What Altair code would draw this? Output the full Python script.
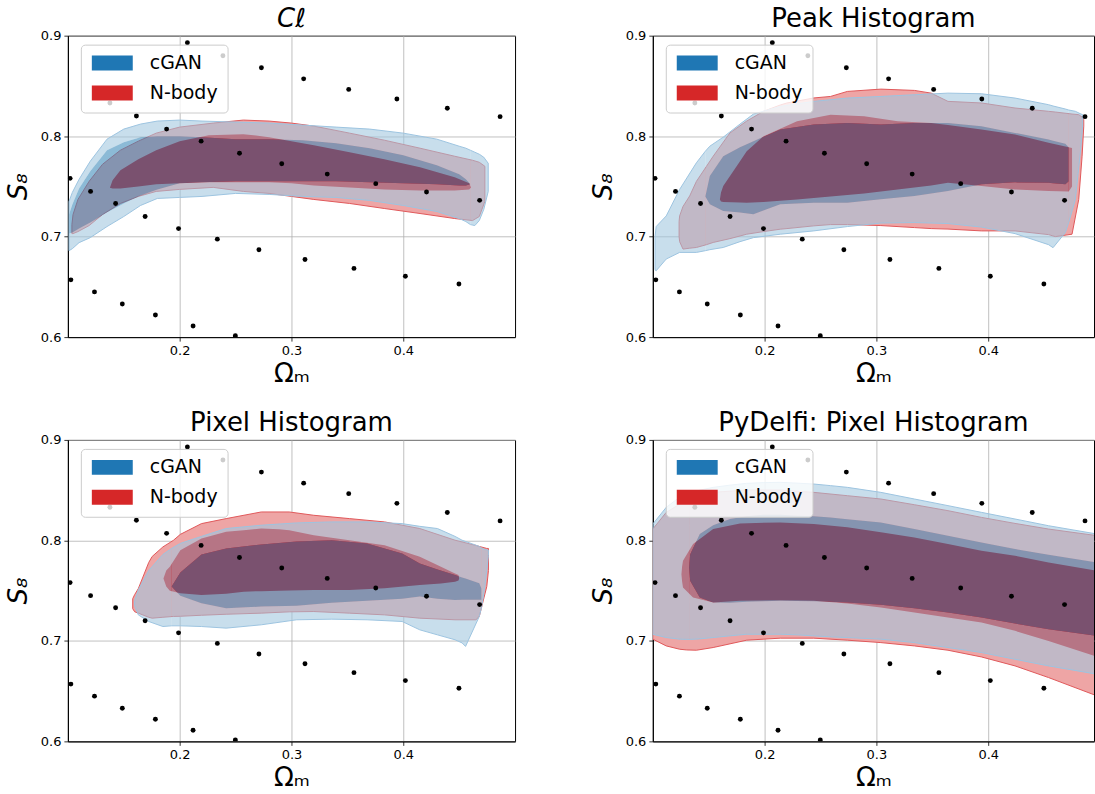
import altair as alt
import pandas as pd

# ---------------- scatter points (same in every panel) ----------------
PT_X = [0.102, 0.1027, 0.1203, 0.1238, 0.1376, 0.1427, 0.1487, 0.1613, 0.1691, 0.1783,
        0.1883, 0.199, 0.2069, 0.212, 0.2192, 0.2337, 0.2387, 0.2498, 0.2535, 0.2709,
        0.2731, 0.2913, 0.3109, 0.3121, 0.332, 0.3512, 0.3559, 0.3754, 0.3943, 0.4019,
        0.4208, 0.4394, 0.4498, 0.4683, 0.4866]
PT_Y = [0.758, 0.657, 0.745, 0.645, 0.833, 0.733, 0.633, 0.820, 0.720, 0.622,
        0.807, 0.708, 0.893, 0.611, 0.795, 0.6975, 0.880, 0.6014, 0.783, 0.687,
        0.868, 0.7725, 0.857, 0.6773, 0.7622, 0.8465, 0.6684, 0.7527, 0.8369, 0.6605,
        0.7444, 0.8277, 0.6529, 0.7361, 0.8194]

TITLES = ["Cℓ", "Peak Histogram", "Pixel Histogram", "PyDelfi: Pixel Histogram"]
SIMS = ["cGAN", "N-body"]
N = None

# ---------------- panel 1 : C_ell ----------------
P1_CG_X = [0.101, 0.104, 0.11, 0.12, 0.135, 0.15, 0.165, 0.18, 0.2, 0.22, 0.25, 0.28,
           0.31, 0.34, 0.37, 0.40, 0.43, 0.45, 0.456, 0.46, 0.464, 0.468, 0.472, 0.476]
P1_CG95_HI = [0.735, 0.744, 0.757, 0.775, 0.797, 0.807, 0.812, 0.815, 0.816, 0.815, 0.814, 0.813,
              0.811, 0.809, 0.807, 0.803, 0.797, 0.790, 0.788, 0.786, 0.784, 0.782, 0.779, 0.773]
P1_CG95_LO = [0.686, 0.688, 0.694, 0.699, 0.710, 0.720, 0.731, 0.738, 0.739, 0.740, 0.743, 0.742,
              0.740, 0.739, 0.736, 0.731, 0.725, 0.718, 0.715, 0.712, 0.711, 0.716, 0.727, 0.745]
P1_CG68_HI = [0.722, 0.732, 0.748, 0.765, 0.786, 0.794, 0.799, 0.800, 0.800, 0.799, 0.797, 0.797,
              0.796, 0.793, 0.788, 0.781, 0.771, 0.762, 0.757, 0.752, N, N, N, N]
P1_CG68_LO = [0.703, 0.704, 0.708, 0.714, 0.724, 0.733, 0.741, 0.747, 0.753, 0.754, 0.755, 0.755,
              0.755, 0.755, 0.754, 0.753, 0.752, 0.751, 0.751, 0.752, N, N, N, N]
P1_NB95_X = [0.1036, 0.1046, 0.109, 0.119, 0.131, 0.147, 0.163, 0.179, 0.20, 0.23, 0.257, 0.28,
             0.30, 0.32, 0.352, 0.383, 0.415, 0.446, 0.462, 0.468, 0.473]
P1_NB95_HI = [0.712, 0.722, 0.737, 0.755, 0.772, 0.786, 0.795, 0.803, 0.809, 0.813, 0.816, 0.815,
              0.813, 0.810, 0.803, 0.796, 0.788, 0.780, 0.776, 0.774, 0.770]
P1_NB95_LO = [0.703, 0.703, 0.705, 0.711, 0.722, 0.733, 0.740, 0.745, 0.747, 0.749, 0.745, 0.743,
              0.740, 0.737, 0.733, 0.728, 0.723, 0.718, 0.716, 0.720, 0.735]
P1_NB68_X = [0.1376, 0.14, 0.147, 0.163, 0.179, 0.20, 0.226, 0.257, 0.28, 0.30, 0.32, 0.352,
             0.383, 0.415, 0.446, 0.459, 0.4605]
P1_NB68_HI = [0.7487, 0.756, 0.766, 0.777, 0.786, 0.795, 0.801, 0.802, 0.799, 0.795, 0.791, 0.784,
              0.777, 0.769, 0.759, 0.753, 0.749]
P1_NB68_LO = [0.7487, 0.748, 0.748, 0.750, 0.752, 0.753, 0.754, 0.754, 0.754, 0.753, 0.751, 0.749,
              0.747, 0.746, 0.746, 0.747, 0.749]

# ---------------- panel 2 : Peak Histogram ----------------
P2_CG_X = [0.102, 0.103, 0.112, 0.124, 0.139, 0.147, 0.151, 0.163, 0.178, 0.19, 0.214, 0.244,
           0.274, 0.304, 0.334, 0.364, 0.394, 0.424, 0.454, 0.458, 0.469, 0.472, 0.478, 0.483, 0.4845]
P2_CG95_HI = [0.700, 0.710, 0.7206, 0.747, 0.7735, 0.785, 0.790, 0.799, 0.812, 0.822, 0.8296, 0.8346,
              0.8379, 0.8395, 0.8412, 0.8428, 0.8422, 0.8379, 0.8313, 0.830, 0.827, 0.826, 0.8247, 0.822, 0.8214]
P2_CG95_LO = [0.667, 0.666, 0.6777, 0.6843, 0.6843, 0.686, 0.687, 0.6892, 0.695, 0.699, 0.7024, 0.7057,
              0.710, 0.7135, 0.714, 0.713, 0.7095, 0.703, 0.692, 0.689, 0.704, 0.714, 0.737, 0.79, 0.81]
P2_CG68_HI = [N, N, N, N, N, 0.74, 0.7603, 0.78, 0.789, 0.795, 0.8065, 0.8115,
              0.8131, 0.8115, 0.8131, 0.8131, 0.8098, 0.8032, 0.7966, 0.7955, 0.7925, 0.789, N, N, N]
P2_CG68_LO = [N, N, N, N, N, 0.74, 0.7322, 0.7256, 0.724, 0.7223, 0.7322, 0.7338,
              0.7338, 0.7371, 0.7405, 0.7454, 0.752, 0.754, 0.7535, 0.753, 0.752, 0.755, N, N, N]
P2_NB95_X = [0.1235, 0.124, 0.127, 0.133, 0.139, 0.148, 0.154, 0.169, 0.184, 0.199, 0.214, 0.22,
             0.244, 0.259, 0.274, 0.304, 0.334, 0.349, 0.364, 0.394, 0.424, 0.454, 0.46, 0.475,
             0.481, 0.484, 0.4855]
P2_NB95_HI = [0.715, 0.7206, 0.73, 0.7405, 0.755, 0.77, 0.78, 0.8032, 0.815, 0.8247, 0.831, 0.833,
              0.838, 0.8395, 0.8445, 0.8468, 0.8455, 0.8428, 0.8346, 0.833, 0.828, 0.8247, 0.824, 0.822,
              0.8214, 0.819, 0.8164]
P2_NB95_LO = [0.70, 0.695, 0.6876, 0.6885, 0.6892, 0.692, 0.6942, 0.698, 0.7024, 0.705, 0.7074, 0.708,
              0.7107, 0.712, 0.712, 0.711, 0.709, 0.708, 0.7075, 0.7057, 0.7057, 0.702, 0.70, 0.7024,
              0.737, 0.78, 0.81]
P2_NB68_X = [0.16, 0.161, 0.163, 0.178, 0.184, 0.199, 0.229, 0.259, 0.289, 0.319, 0.349, 0.364,
             0.394, 0.424, 0.454, 0.472, 0.475]
P2_NB68_HI = [0.737, 0.744, 0.7504, 0.775, 0.785, 0.80, 0.8148, 0.8214, 0.8197, 0.8148, 0.8131, 0.811,
              0.8065, 0.8016, 0.7933, 0.789, 0.7883]
P2_NB68_LO = [0.737, 0.735, 0.7345, 0.734, 0.7338, 0.7345, 0.737, 0.740, 0.743, 0.747, 0.751, 0.7537,
              0.7504, 0.747, 0.7454, 0.745, 0.75]

# ---------------- panel 3 : Pixel Histogram ----------------
P3_CG_X = [0.1597, 0.163, 0.1723, 0.185, 0.1928, 0.2006, 0.2195, 0.2416, 0.273, 0.3046, 0.336,
           0.3676, 0.399, 0.4148, 0.4306, 0.4463, 0.4526, 0.4557, 0.468, 0.470, 0.473, 0.4762]
P3_CG95_HI = [0.740, 0.7507, 0.770, 0.786, 0.792, 0.797, 0.804, 0.8118, 0.8151, 0.8174, 0.8184,
              0.8184, 0.8167, 0.814, 0.8118, 0.804, 0.8002, 0.799, 0.794, 0.7925, 0.791, 0.7903]
P3_CG95_LO = [0.735, 0.7259, 0.7193, 0.7143, 0.715, 0.715, 0.7143, 0.7127, 0.716, 0.721, 0.7216,
              0.721, 0.7193, 0.711, 0.706, 0.7011, 0.698, 0.6945, 0.7243, 0.733, 0.754, 0.785]
P3_CG68_HI = [N, N, N, N, 0.754, 0.768, 0.786, 0.792, 0.796, 0.799, 0.8002,
              0.797, 0.787, 0.7771, 0.771, 0.7655, 0.763, 0.762, 0.7573, 0.752, N, N]
P3_CG68_LO = [N, N, N, N, 0.754, 0.745, 0.7375, 0.7325, 0.7342, 0.735, 0.738,
              0.740, 0.742, 0.7441, 0.742, 0.7408, 0.741, 0.741, 0.741, 0.741, N, N]
P3_NB95_X = [0.158, 0.1597, 0.163, 0.1723, 0.1754, 0.185, 0.1943, 0.2006, 0.2195, 0.2416, 0.273,
             0.298, 0.32, 0.3518, 0.3833, 0.4148, 0.4463, 0.465, 0.468, 0.4747, 0.4762]
P3_NB95_HI = [0.742, 0.746, 0.752, 0.778, 0.784, 0.7935, 0.800, 0.806, 0.8167, 0.8217, 0.8283,
              0.8283, 0.825, 0.8217, 0.8184, 0.8118, 0.8002, 0.795, 0.794, 0.792, 0.792]
P3_NB95_LO = [0.732, 0.729, 0.7276, 0.7235, 0.7226, 0.7235, 0.7243, 0.7245, 0.7255, 0.7265, 0.7276,
              0.7289, 0.7292, 0.7276, 0.7259, 0.7226, 0.721, 0.721, 0.7243, 0.754, 0.77]
P3_NB68_X = [0.1855, 0.188, 0.1912, 0.2006, 0.2195, 0.2416, 0.2573, 0.273, 0.2888, 0.298, 0.32,
             0.3518, 0.3833, 0.4148, 0.4337, 0.4463, 0.4494, 0.45]
P3_NB68_HI = [0.7622, 0.770, 0.7738, 0.7903, 0.8019, 0.8085, 0.810, 0.8118, 0.811, 0.8101, 0.8052,
              0.8002, 0.7953, 0.7837, 0.7738, 0.767, 0.7655, 0.7622]
P3_NB68_LO = [0.7622, 0.754, 0.750, 0.7474, 0.7457, 0.747, 0.749, 0.7495, 0.75, 0.7502, 0.7507,
              0.7507, 0.7523, 0.7556, 0.757, 0.7589, 0.760, 0.7622]

# ---------------- panel 4 : PyDelfi ----------------
P4_CG_X = [0.1, 0.112, 0.124, 0.13, 0.1325, 0.1334, 0.142, 0.154, 0.169, 0.184, 0.199, 0.214,
           0.229, 0.244, 0.259, 0.274, 0.304, 0.334, 0.364, 0.394, 0.424, 0.454, 0.4975]
P4_CG95_HI = [0.8163, 0.8329, 0.843, 0.8462, 0.847, 0.8473, 0.850, 0.8528, 0.855, 0.8568, 0.8575, 0.8578,
              0.857, 0.8561, 0.8545, 0.8528, 0.8478, 0.8412, 0.8346, 0.8279, 0.8213, 0.8146, 0.8063]
P4_CG95_LO = [0.7066, 0.7033, 0.7017, 0.7015, 0.7015, 0.7015, 0.702, 0.7033, 0.705, 0.7066, 0.7066, 0.7066,
              0.706, 0.705, 0.704, 0.7033, 0.7017, 0.6983, 0.6934, 0.6884, 0.6817, 0.6751, 0.6668]
P4_CG68_HI = [N, N, N, N, 0.7731, 0.786, 0.8063, 0.815, 0.8213, 0.824, 0.8256, 0.8255,
              0.8246, 0.824, 0.8229, 0.821, 0.8179, 0.8113, 0.8047, 0.798, 0.7914, 0.7857, 0.7781]
P4_CG68_LO = [N, N, N, N, 0.7731, 0.7598, 0.7432, 0.7382, 0.738, 0.739, 0.7395, 0.74,
              0.7398, 0.7395, 0.739, 0.7382, 0.7359, 0.7326, 0.7282, 0.7233, 0.7173, 0.7116, 0.705]
P4_NB95_X = [0.1, 0.112, 0.124, 0.13, 0.139, 0.154, 0.184, 0.214, 0.244, 0.274, 0.304, 0.334,
             0.364, 0.394, 0.424, 0.454, 0.4975]
P4_NB95_HI = [0.8113, 0.8279, 0.836, 0.8395, 0.843, 0.8478, 0.8502, 0.8502, 0.8478, 0.8445, 0.8412, 0.8355,
              0.8296, 0.8229, 0.8169, 0.8113, 0.8047]
P4_NB95_LO = [0.7017, 0.695, 0.6917, 0.691, 0.6907, 0.6934, 0.7007, 0.7027, 0.7027, 0.7007, 0.6983, 0.695,
              0.6907, 0.684, 0.6751, 0.6635, 0.6452]
P4_NB68_X = [0.1256, 0.1262, 0.127, 0.136, 0.154, 0.178, 0.214, 0.244, 0.274, 0.304, 0.334, 0.364,
             0.394, 0.424, 0.454, 0.4975]
P4_NB68_HI = [0.7664, 0.774, 0.7797, 0.7963, 0.8113, 0.8169, 0.8179, 0.8163, 0.813, 0.808, 0.803, 0.7963,
              0.7897, 0.7847, 0.7781, 0.7698]
P4_NB68_LO = [0.7664, 0.759, 0.7532, 0.7432, 0.7382, 0.7399, 0.7405, 0.7399, 0.7372, 0.7332, 0.7282, 0.7233,
              0.7183, 0.71, 0.70, 0.6841]

PANELS = [
    (P1_CG_X, P1_CG95_LO, P1_CG95_HI, P1_CG68_LO, P1_CG68_HI,
     P1_NB95_X, P1_NB95_LO, P1_NB95_HI, P1_NB68_X, P1_NB68_LO, P1_NB68_HI),
    (P2_CG_X, P2_CG95_LO, P2_CG95_HI, P2_CG68_LO, P2_CG68_HI,
     P2_NB95_X, P2_NB95_LO, P2_NB95_HI, P2_NB68_X, P2_NB68_LO, P2_NB68_HI),
    (P3_CG_X, P3_CG95_LO, P3_CG95_HI, P3_CG68_LO, P3_CG68_HI,
     P3_NB95_X, P3_NB95_LO, P3_NB95_HI, P3_NB68_X, P3_NB68_LO, P3_NB68_HI),
    (P4_CG_X, P4_CG95_LO, P4_CG95_HI, P4_CG68_LO, P4_CG68_HI,
     P4_NB95_X, P4_NB95_LO, P4_NB95_HI, P4_NB68_X, P4_NB68_LO, P4_NB68_HI),
]

# ---------------- styling ----------------
KEYS = ["cGAN", "N-body", "cGAN 95", "cGAN 68", "N-body 95", "N-body 68"]
KEY_COLORS = ["#1f77b4", "#d62728", "#a0c6de", "#3988b8", "#eea5a5", "#d4050a"]
FONT = "DejaVu Sans"


def band_rows(x, lo, hi, key, seg):
    return [dict(x=a, y=b, y2=c, key=key, seg=seg)
            for a, b, c in zip(x, lo, hi) if b is not None and c is not None]


def ring_rows(x, olo, ohi, ilo, ihi):
    """Outer (95%) region split into pieces around the inner (68%) region, so that
    the two cGAN levels do not overlap (as matplotlib contourf bands)."""
    n = len(x)
    idx = [i for i in range(n) if ilo[i] is not None]
    i0, i1 = idx[0], idx[-1]
    rows = []
    if i0 > 0:
        rows += band_rows(x[:i0 + 1], olo[:i0 + 1], ohi[:i0 + 1], "cGAN 95", "L")
    for i in range(i0, i1 + 1):
        rows.append(dict(x=x[i], y=olo[i], y2=ilo[i], key="cGAN 95", seg="B"))
        rows.append(dict(x=x[i], y=ihi[i], y2=ohi[i], key="cGAN 95", seg="T"))
        rows.append(dict(x=x[i], y=ilo[i], y2=ihi[i], key="cGAN 68", seg="I"))
    if i1 < n - 1:
        rows += band_rows(x[i1:], olo[i1:], ohi[i1:], "cGAN 95", "R")
    return rows


def make_panel(i, xmax, width, height):
    (cx, c95lo, c95hi, c68lo, c68hi, n95x, n95lo, n95hi, n68x, n68lo, n68hi) = PANELS[i]
    xs = alt.Scale(domain=[0.1, xmax], nice=False, zero=False)
    ys = alt.Scale(domain=[0.6, 0.9], nice=False, zero=False)
    xax = alt.Axis(values=[0.2, 0.3, 0.4], format=".1f", title="Ωₘ", titlePadding=3)
    yax = alt.Axis(values=[0.6, 0.7, 0.8, 0.9], format=".1f", title="S₈",
                   titleFontStyle="italic", minExtent=28, maxExtent=28, titlePadding=8)
    X = alt.X("x:Q", scale=xs, axis=xax)
    Y = alt.Y("y:Q", scale=ys, axis=yax)
    legend = alt.Legend(values=SIMS, title=None, orient="none", legendX=13, legendY=9,
                        symbolType="M-1,-1H4.467V1H-1Z", symbolSize=225,
                        symbolOpacity=1, symbolStrokeWidth=0,
                        labelFontSize=19, labelFont=FONT, labelColor="black", labelOffset=41,
                        rowPadding=10, padding=9, fillColor="rgba(255,255,255,0.8)",
                        strokeColor="#cccccc", cornerRadius=4, zindex=2)
    C = alt.Color("key:N", scale=alt.Scale(domain=KEYS, range=KEY_COLORS), legend=legend)

    red_o = pd.DataFrame(band_rows(n95x, n95lo, n95hi, "N-body 95", "O"))
    red_i = pd.DataFrame(band_rows(n68x, n68lo, n68hi, "N-body 68", "I"))
    blue = pd.DataFrame(ring_rows(cx, c95lo, c95hi, c68lo, c68hi))
    blue_o = pd.DataFrame(band_rows(cx, c95lo, c95hi, "cGAN 95", "O"))
    pts = pd.DataFrame({"x": PT_X, "y": PT_Y})

    l_red_o = alt.Chart(red_o).mark_area(orient="vertical", clip=True).encode(
        x=X, y=Y, y2="y2:Q", color=C)
    l_red_i = alt.Chart(red_i).mark_area(orient="vertical", clip=True).encode(
        x=X, y=Y, y2="y2:Q", color=C)
    l_red_line = alt.Chart(red_o).mark_area(orient="vertical", clip=True, filled=False,
                                            color="#e0585a", strokeWidth=1).encode(
        x=X, y=Y, y2="y2:Q")
    l_blue = alt.Chart(blue).mark_area(orient="vertical", clip=True, opacity=0.58).encode(
        x=X, y=Y, y2="y2:Q", color=C, detail="seg:N")
    l_blue_line = alt.Chart(blue_o).mark_area(orient="vertical", clip=True, filled=False,
                                              color="#9dc4e0", strokeWidth=1).encode(
        x=X, y=Y, y2="y2:Q")
    l_pts = alt.Chart(pts).mark_circle(size=24, color="black", opacity=1, clip=True).encode(
        x=X, y=Y)

    title = alt.TitleParams(TITLES[i], fontSize=26, font=FONT, fontWeight="normal",
                            fontStyle="italic" if i == 0 else "normal", offset=-2,
                            color="black")
    return alt.layer(l_red_o, l_red_i, l_red_line, l_blue, l_blue_line, l_pts).properties(
        width=width, height=height, title=title)


p1 = make_panel(0, 0.5, 448, 302)
p2 = make_panel(1, 0.1 + 442 / 1120, 442, 302)
p3 = make_panel(2, 0.5, 448, 302)
p4 = make_panel(3, 0.1 + 442 / 1120, 442, 302)

row1 = alt.hconcat(p1, p2, spacing=74).resolve_scale(color="independent", x="independent", y="independent").resolve_legend(color="independent")
row2 = alt.hconcat(p3, p4, spacing=74).resolve_scale(color="independent", x="independent", y="independent").resolve_legend(color="independent")

chart = alt.vconcat(row1, row2, spacing=22).resolve_scale(
    color="independent", x="independent", y="independent").resolve_legend(color="independent").properties(
    padding={"left": 5, "top": 4, "right": 0, "bottom": 0},
    background="white",
).configure_view(stroke="black", strokeWidth=1).configure_axis(
    labelFont=FONT, labelFontSize=13, labelColor="black", labelPadding=3,
    tickColor="black", tickSize=4, tickWidth=0.8,
    domainColor="black", domainWidth=1,
    grid=True, gridColor="#b0b0b0", gridWidth=0.8,
    titleFont=FONT, titleFontSize=26, titleFontWeight="normal", titleColor="black",
    zindex=1,
)

chart.save("out.html", embed_options={"renderer": "svg", "actions": False})
